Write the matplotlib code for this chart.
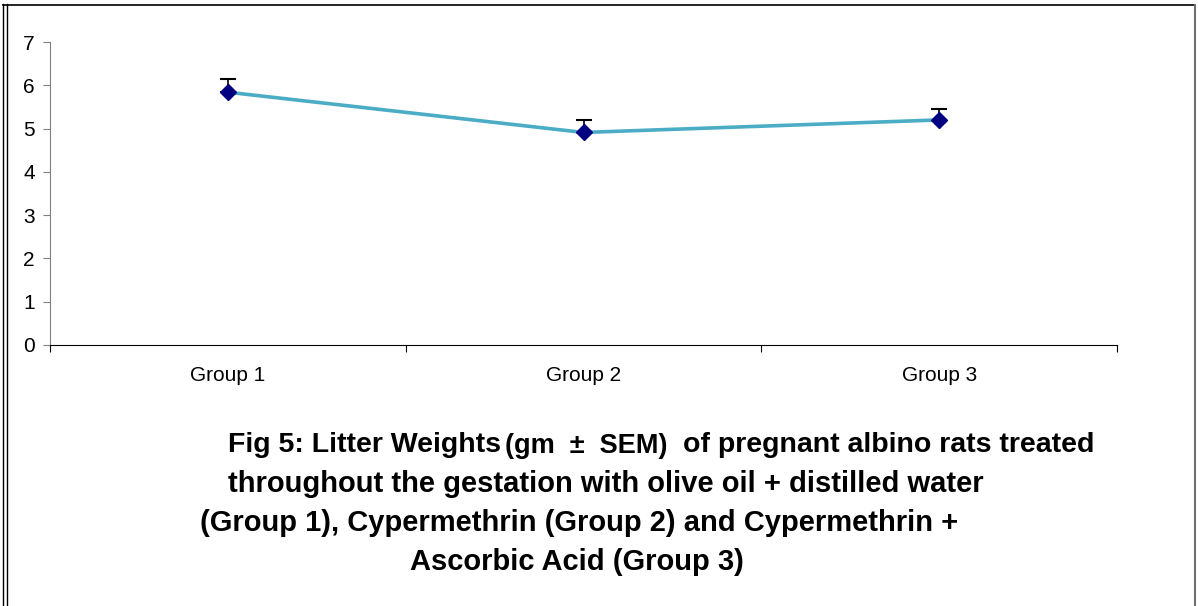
import matplotlib.pyplot as plt
from matplotlib.lines import Line2D

plt.rcParams['font.family'] = ['Liberation Sans', 'DejaVu Sans']

# ~~~ DATA ~~~~~~~~~~~~~~~~~~~~~~~~~~~~~~~~~~~~~~~~~~~~~~~~~~~~~~~~~~~~~~~~~~~
groups = ['Group 1', 'Group 2', 'Group 3']
weights = [5.84, 4.91, 5.20]
sem = [0.30, 0.29, 0.26]
yticks = [0, 1, 2, 3, 4, 5, 6, 7]

# ~~~ PLOT ~~~~~~~~~~~~~~~~~~~~~~~~~~~~~~~~~~~~~~~~~~~~~~~~~~~~~~~~~~~~~~~~~~~
fig = plt.figure(figsize=(11.98, 6.06), dpi=100)
ax = fig.add_axes([50 / 1198, 1 - 345 / 606, (1117 - 50) / 1198, (345 - 42) / 606])

x = list(range(len(groups)))
ax.errorbar(x, weights, yerr=[[0] * 3, sem], fmt='none', ecolor='black',
            elinewidth=1.2, capsize=6, capthick=1.5, zorder=2)
ax.plot(x, weights, color='#4BACC6', lw=2.6, zorder=3)
ax.plot(x, weights, 'D', color='#000080', ms=8, zorder=4)

ax.set_xlim(-0.5, 2.5)
ax.set_ylim(0, 7)
ax.set_yticks(yticks)
ax.set_xticks([-0.5, 0.5, 1.5, 2.5])
ax.set_xticklabels([])
ax.set_xticks(x, minor=True)
ax.set_xticklabels(groups, minor=True)
ax.tick_params(axis='x', which='minor', length=0, pad=15, labelsize=15)
ax.tick_params(axis='x', which='major', length=5, color='black')
ax.tick_params(axis='y', length=5, color='#808080', labelsize=15, pad=6)

for s in ['top', 'right']:
    ax.spines[s].set_visible(False)
ax.spines['left'].set_color('#808080')
ax.spines['bottom'].set_color('black')

# caption
first = [
    (228, 445, 'Fig 5: Litter Weights', 20.5),
    (505, 446, '(gm  ±  SEM)', 19.5),
    (683, 445, 'of pregnant albino rats treated', 20.5),
]
lines = [
    (228, 484, 'throughout the gestation with olive oil + distilled water', 21),
    (200, 523, '(Group 1), Cypermethrin (Group 2) and Cypermethrin +', 21),
    (410, 562, 'Ascorbic Acid (Group 3)', 21),
]
for px, py, s, fs in first + lines:
    fig.text(px / 1198, 1 - py / 606, s, fontsize=fs, fontweight='bold',
             va='center', ha='left')

# page frame
fig.add_artist(Line2D([3 / 1198, 3 / 1198], [0, 1 - 4 / 606], color='black', lw=1))
fig.add_artist(Line2D([7 / 1198, 7 / 1198], [0, 1 - 4 / 606], color='black', lw=1))
fig.add_artist(Line2D([3 / 1198, 1195 / 1198], [1 - 5 / 606, 1 - 5 / 606], color='black', lw=1.2))
fig.add_artist(Line2D([1195 / 1198, 1195 / 1198], [0, 1 - 5 / 606], color='#707070', lw=1.5))

plt.savefig('out.png', dpi=100)
plt.close()
